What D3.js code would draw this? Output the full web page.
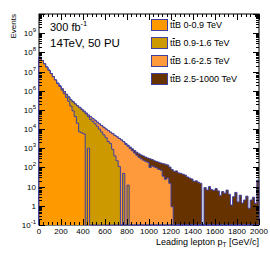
<!DOCTYPE html>
<html>
<head>
<meta charset="utf-8">
<script src="https://cdn.jsdelivr.net/npm/d3@7"></script>
<style>
	body { margin: 0; background: #fff; }
	text { font-family: "Liberation Sans", Arial, sans-serif; fill: #000; }
</style>
</head>
<body>
<svg id="chart" width="270" height="259"></svg>
<script>
'use strict';

// binning (GeV)
var binWidth = 20;
var nBins = 100;

// sample names, stack order from the bottom
var samples = ['0-0.9 TeV', '0.9-1.6 TeV', '1.6-2.5 TeV', '2.5-1000 TeV'];

// events per 20 GeV bin, one array per sample
var ttB_0_09 = [5.5e7, 3.72e7, 2.51e7, 1.70e7, 1.17e7, 7.9e6, 5.35e6, 3.6e6, 2.34e6, 1.66e6,
	1.07e6, 7.08e5, 4.47e5, 2.82e5, 1.58e5, 8.9e4, 4.47e4, 2.0e4, 7100, 6300,
	5600, 0, 1000];
var ttB_09_16 = [0, 0, 0, 0, 0, 0, 0, 0, 1.1e5, 1.2e5,
	1.9e5, 2.04e5, 1.99e5, 1.86e5, 1.73e5, 1.74e5, 1.59e5, 1.42e5, 1.22e5, 9.6e4,
	7.4e4, 6.17e4, 4.37e4, 3.16e4, 2.51e4, 1.91e4, 1.41e4, 1.0e4, 7100, 5000,
	3550, 2240, 1780, 890, 400, 224, 112, 0, 49, 0,
	12];
var ttB_16_25 = [0, 0, 0, 0, 0, 0, 0, 0, 0, 0,
	0, 0, 0, 0, 0, 0, 0, 0, 6000, 5000,
	5700, 5900, 9000, 12100, 10400, 9700, 8800, 8600, 8000, 7300,
	6450, 6100, 5100, 4860, 4280, 3670, 3130, 2690, 2140, 1585,
	1247, 955, 741, 562, 437, 339, 282, 240, 209, 186,
	100, 120, 105, 95, 79, 72, 35, 24, 28, 15,
	0.9];
var ttB_25_1000 = [0, 0, 0, 0, 0, 0, 0, 0, 0, 0,
	0, 0, 0, 0, 0, 0, 0, 0, 0, 0,
	0, 0, 0, 0, 0, 0, 0, 0, 0, 0,
	60, 60, 55, 55, 50, 50, 50, 50, 50, 193,
	186, 193, 192, 197, 180, 174, 165, 158, 138, 123,
	182, 137, 119, 109, 107, 98, 123, 124, 107, 90,
	78, 63, 66, 52, 49, 44, 40, 32, 28, 25,
	19, 20, 17, 15, 0, 8.9, 6.6, 10, 7.1, 6.3,
	7.9, 6.0, 3.5, 5.5, 4.5, 6.6, 4.0, 1.1, 3.0, 5.0,
	1.6, 3.6, 1.4, 2.0, 3.2, 0.74, 2.0, 2.8, 1.35, 22];

var series = [ttB_0_09, ttB_09_16, ttB_16_25, ttB_25_1000];

// axis ticks
var xTicks = d3.range(0, 2001, 200);
var yExps = d3.range(-1, 10);

// look
var colors = ['#ff9900', '#cc9900', '#ff9a3c', '#663300'];
var lineColor = '#4040a0';

var svg = d3.select('#chart');
var frame = { l: 39, r: 259, t: 14, b: 225 };

var x = d3.scaleLinear().domain([0, 2000]).range([frame.l, frame.r]);
var y = d3.scaleLog().domain([0.1, 1e10]).range([frame.b, frame.t]);
var yv = function(v){ return v > 0.1 ? y(v) : frame.b; };

// bins -> stacked sums
var bins = d3.range(nBins).map(function(i){
	var o = { lo: i * binWidth };
	series.forEach(function(s, k){ o[k] = s[i] || 0; });
	return o;
});
var stacked = d3.stack().keys([0, 1, 2, 3])(bins);

// frame
svg.append('rect')
	.attr('x', frame.l).attr('y', frame.t)
	.attr('width', frame.r - frame.l).attr('height', frame.b - frame.t)
	.attr('fill', '#fff').attr('stroke', '#000').attr('stroke-width', 1);

svg.append('clipPath').attr('id', 'clip')
	.append('rect')
	.attr('x', frame.l - 1).attr('y', frame.t)
	.attr('width', frame.r - frame.l + 2).attr('height', frame.b - frame.t + 1);

var area = d3.area()
	.x(function(d){ return x(d[0]); })
	.y0(frame.b)
	.y1(function(d){ return yv(d[1]); })
	.curve(d3.curveStepAfter);
var line = d3.line()
	.x(function(d){ return x(d[0]); })
	.y(function(d){ return yv(d[1]); })
	.curve(d3.curveStepAfter);

// draw cumulative histograms from the top of the stack down
var g = svg.append('g').attr('clip-path', 'url(#clip)');
for (var k = series.length - 1; k >= 0; k--){
	var pts = [[0, 0]]
		.concat(bins.map(function(b, i){ return [b.lo, stacked[k][i][1]]; }))
		.concat([[nBins * binWidth, 0]]);
	g.append('path').attr('d', area(pts)).attr('fill', colors[k]);
	g.append('path').attr('d', line(pts))
		.attr('fill', 'none').attr('stroke', lineColor).attr('stroke-width', 1);
}

// ticks
var tk = svg.append('g').attr('stroke', '#000').attr('stroke-width', 1);
var xMinor = d3.range(0, 2001, 40);
xMinor.forEach(function(v){
	var major = v % 200 === 0;
	var len = major ? 6 : 3;
	var px = Math.round(x(v)) + 0.5;
	tk.append('line').attr('x1', px).attr('x2', px).attr('y1', frame.b).attr('y2', frame.b - len);
	tk.append('line').attr('x1', px).attr('x2', px).attr('y1', frame.t).attr('y2', frame.t + len);
});
yExps.concat([10]).forEach(function(e){
	var py = Math.round(y(Math.pow(10, e))) + 0.5;
	tk.append('line').attr('x1', frame.l).attr('x2', frame.l + 6).attr('y1', py).attr('y2', py);
	tk.append('line').attr('x1', frame.r).attr('x2', frame.r - 6).attr('y1', py).attr('y2', py);
	if (e < 10){
		for (var m = 2; m <= 9; m++){
			var pm = Math.round(y(m * Math.pow(10, e))) + 0.5;
			tk.append('line').attr('x1', frame.l).attr('x2', frame.l + 3).attr('y1', pm).attr('y2', pm);
			tk.append('line').attr('x1', frame.r).attr('x2', frame.r - 3).attr('y1', pm).attr('y2', pm);
		}
	}
});

// x tick labels
svg.selectAll('.xl').data(xTicks).enter().append('text')
	.attr('x', function(d){ return x(d); })
	.attr('y', 233.5)
	.attr('text-anchor', 'middle')
	.attr('font-size', 8)
	.text(function(d){ return d; });

// y tick labels
yExps.forEach(function(e){
	var t = svg.append('text')
		.attr('x', 36).attr('y', y(Math.pow(10, e)) + 3)
		.attr('text-anchor', 'end')
		.attr('font-size', 8);
	if (e === 0){ t.text('1'); }
	else if (e === 1){ t.text('10'); }
	else {
		t.append('tspan').text('10');
		t.append('tspan').attr('dy', -4).attr('font-size', 6).text(e);
	}
});

// axis titles
var xt = svg.append('text')
	.attr('x', 259).attr('y', 244.5)
	.attr('text-anchor', 'end')
	.attr('font-size', 9);
xt.append('tspan').text('Leading lepton p');
xt.append('tspan').attr('dy', 2).attr('font-size', 6.5).text('T');
xt.append('tspan').attr('dy', -2).text(' [GeV/c]');

svg.append('text')
	.attr('transform', 'translate(16,14) rotate(-90)')
	.attr('text-anchor', 'end')
	.attr('font-size', 8)
	.text('Events');

// luminosity labels
var lumi = svg.append('text').attr('x', 50).attr('y', 31).attr('font-size', 11);
lumi.append('tspan').text('300 fb');
lumi.append('tspan').attr('dy', -5).attr('font-size', 7.5).text('-1');
svg.append('text').attr('x', 50).attr('y', 47).attr('font-size', 11.5).text('14TeV, 50 PU');

// legend
samples.forEach(function(s, i){
	var ly = 19 + 18 * i;
	svg.append('rect')
		.attr('x', 151.5).attr('y', ly + 0.5)
		.attr('width', 16).attr('height', 11)
		.attr('fill', colors[i]).attr('stroke', lineColor).attr('stroke-width', 1);
	var t = svg.append('text').attr('x', 170).attr('y', ly + 9).attr('font-size', 9);
	t.append('tspan').text('t');
	t.append('tspan').style('text-decoration', 'overline').text('t');
	t.append('tspan').text('B ' + s);
});
</script>
</body>
</html>
